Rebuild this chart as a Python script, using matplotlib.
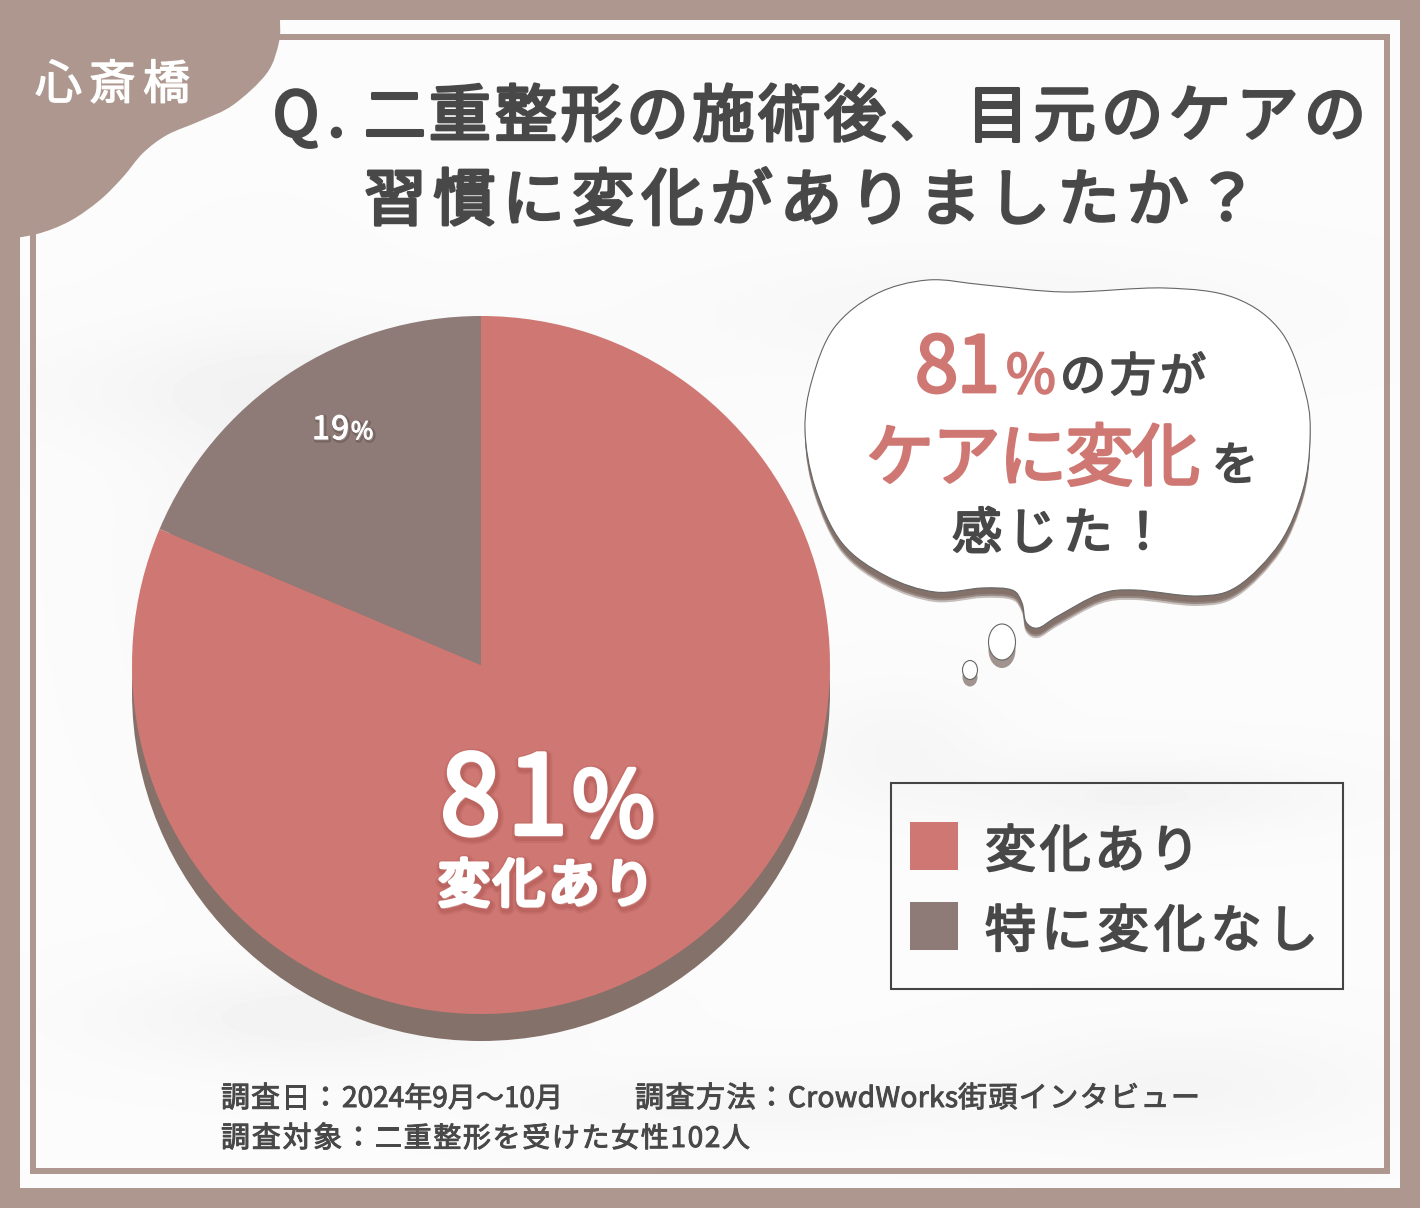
import numpy as np
import matplotlib
matplotlib.use('Agg')
import matplotlib.pyplot as plt
import matplotlib.patheffects as pe
from matplotlib.patches import Circle, Ellipse, PathPatch, Rectangle
from matplotlib.path import Path
from matplotlib.transforms import Affine2D
from matplotlib.font_manager import FontProperties
from matplotlib.textpath import text_to_path

plt.rcParams['font.family'] = ['Noto Sans CJK JP', 'DejaVu Sans']

# データ (回答者102人)
labels = ['変化あり', '特に変化なし']
counts = [83, 19]
colors = ['#cf7873', '#8e7b78']
percents = [round(c / sum(counts) * 100) for c in counts]

area = '心斎橋'
title_q = 'Q.'
title_a = '二重整形の施術後、'
title_b = '目元のケアの'
title_c = '習慣に変化がありましたか？'
note_date = ['調査日：', '2024年9月～10月']
note_method = ['調査方法：', 'CrowdWorks', '街頭インタビュー']
note_target = ['調査対象：', '二重整形を受けた女性102人']

W, H = 1420, 1208
BAND = '#ad978e'
DARK = '#484848'
SHADOW = '#83716a'

fig = plt.figure(figsize=(W / 100, H / 100), dpi=100)


def pixel_axes(z):
    a = fig.add_axes([0, 0, 1, 1], zorder=z)
    a.set_xlim(0, W)
    a.set_ylim(H, 0)
    a.axis('off')
    a.patch.set_alpha(0)
    return a


def smooth_path(pts):
    # 点を通る閉じた曲線 (Catmull-Rom をベジェに変換)
    pts = np.array(pts, dtype=float)
    n = len(pts)
    verts = [pts[0]]
    codes = [Path.MOVETO]
    for i in range(n):
        p0, p1, p2, p3 = pts[i - 1], pts[i], pts[(i + 1) % n], pts[(i + 2) % n]
        verts += [p1 + (p2 - p0) / 6, p2 - (p3 - p1) / 6, p2]
        codes += [Path.CURVE4] * 3
    return Path(verts, codes)


def open_curve(pts):
    # 端点つきの開いた曲線の頂点とコード
    pts = np.array(pts, dtype=float)
    verts, codes = [], []
    for i in range(len(pts) - 1):
        p0 = pts[max(i - 1, 0)]
        p1, p2 = pts[i], pts[i + 1]
        p3 = pts[min(i + 2, len(pts) - 1)]
        verts += [p1 + (p2 - p0) / 6, p2 - (p3 - p1) / 6, p2]
        codes += [Path.CURVE4] * 3
    return verts, codes


def spaced(ax, s, x0, x1, base, size, color, stroke=1.0, effects=None):
    # 文字を x0 から x1 まで均等に並べる
    prop = FontProperties(family='Noto Sans CJK JP', size=size * 0.72)
    widths = []
    for ch in s:
        w, _, _ = text_to_path.get_text_width_height_descent(ch, prop, False)
        widths.append(w * 100 / 72)
    gap = (x1 - x0 - sum(widths)) / max(len(s) - 1, 1)
    fx = effects if effects is not None else [pe.withStroke(linewidth=stroke, foreground=color)]
    x = x0
    for ch, w in zip(s, widths):
        ax.text(x, base, ch, fontproperties=prop, color=color, ha='left', va='baseline',
                path_effects=fx)
        x += w + gap


bg = pixel_axes(0)
bg.add_patch(Rectangle((0, 0), W, H, fc=BAND, ec='none'))

# 背景のうっすらした模様
yy, xx = np.mgrid[0:H // 4, 0:W // 4] * 4.0
tex = np.full(xx.shape, 0.985)
for cx, cy, sx, sy, d in [(300, 380, 260, 60, 0.03), (250, 560, 120, 200, 0.025), (1000, 300, 300, 60, 0.02),
                          (1150, 800, 200, 40, 0.03), (300, 1030, 200, 50, 0.035), (1200, 1100, 200, 60, 0.025),
                          (750, 1120, 250, 40, 0.02), (900, 750, 100, 60, 0.02)]:
    tex -= d * np.exp(-((xx - cx) / sx) ** 2 - ((yy - cy) / sy) ** 2)
bg.imshow(tex, cmap='gray', vmin=0, vmax=1, extent=(20, 1400, 1188, 20), aspect='auto',
          interpolation='bilinear', zorder=1)
bg.set_xlim(0, W)
bg.set_ylim(H, 0)

# 内側の枠線
bg.add_patch(Rectangle((33, 37), 1354, 1134, fc='none', ec=BAND, lw=4.3, zorder=2))

# 左上の飾り
edge = [(280, 20), (279, 42), (267, 73), (233, 105), (200, 121), (167, 135), (143, 153), (123, 177), (100, 200),
        (70, 221), (37, 234), (0, 240)]
ev, ec = open_curve(edge)
corner = Path([(0, 0), (280, 0), edge[0]] + ev + [(0, 0)],
              [Path.MOVETO, Path.LINETO, Path.LINETO] + ec + [Path.CLOSEPOLY])
bg.add_patch(PathPatch(corner, fc=BAND, ec='none', zorder=3))

# 円グラフの影
cx, cy, r = 481, 665, 349
bg.add_patch(Circle((cx, cy + 27), r, fc=SHADOW, ec='none', zorder=4))

# 円グラフ
pie_ax = fig.add_axes([(cx - r) / W, 1 - (cy + r) / H, 2 * r / W, 2 * r / H], zorder=1)
pie_ax.pie(counts, colors=colors, startangle=90, counterclock=False, radius=1)
pie_ax.set_xlim(-1, 1)
pie_ax.set_ylim(-1, 1)
pie_ax.patch.set_alpha(0)

ax = pixel_axes(2)

# 吹き出し
bubble = [(805, 430), (812, 380), (834, 328), (876, 294), (928, 280), (985, 285), (1065, 292), (1165, 288),
          (1235, 298), (1282, 333), (1306, 395), (1310, 440), (1303, 490), (1280, 543), (1238, 586), (1198, 596),
          (1135, 590), (1100, 594), (1058, 616), (1038, 628), (1026, 622), (1022, 603), (1012, 590), (982, 588),
          (935, 592), (886, 576), (842, 543), (815, 487)]
shape = smooth_path(bubble)
for dy, a in [(10, 0.45), (8, 0.7), (6, 1.0)]:
    ax.add_patch(PathPatch(shape.transformed(Affine2D().translate(0, dy)), fc=SHADOW, ec='none', alpha=a))
ax.add_patch(PathPatch(shape, fc='white', ec='#666666', lw=0.8))
for (ex, ey, ew, eh, dy) in [(1002, 642, 27, 36, 8), (970, 670, 15, 19, 7)]:
    ax.add_patch(Ellipse((ex, ey + dy), ew, eh, fc=SHADOW, ec='none', alpha=0.75))
    ax.add_patch(Ellipse((ex, ey), ew, eh, fc='white', ec='#666666', lw=0.8))

# タイトル
spaced(ax, area, 35, 190, 99, 47, 'white', 1.0)
spaced(ax, title_q, 273, 345, 136, 62, DARK, 2.2)
spaced(ax, title_a, 363, 952, 136, 62, DARK, 2.2)
spaced(ax, title_b, 966, 1366, 136, 62, DARK, 2.2)
spaced(ax, title_c, 364, 1258, 220, 62, DARK, 2.2)

# 吹き出しの文字
PINK = colors[0]
spaced(ax, str(percents[0]), 915, 1000, 392, 78, PINK, 2.0)
spaced(ax, '%', 1006, 1052, 393, 54, PINK, 1.5)
spaced(ax, 'の方が', 1060, 1206, 391, 46, DARK, 1.5)
spaced(ax, 'ケアに変化', 866, 1200, 480, 68, PINK, 2.0)
spaced(ax, 'を', 1212, 1256, 480, 46, DARK, 1.5)
spaced(ax, '感じた！', 952, 1168, 549, 50, DARK, 1.5)

# 円グラフの中の文字
glow = [pe.Stroke(offset=(1, -2), linewidth=9, foreground='#a9524e', alpha=0.22),
        pe.Stroke(offset=(1, -2), linewidth=6, foreground='#a9524e', alpha=0.35),
        pe.Stroke(linewidth=3, foreground='white'), pe.Normal()]
spaced(ax, str(percents[0]), 440, 568, 834, 110, 'white', effects=glow)
spaced(ax, '%', 572, 652, 836, 90, 'white', effects=glow)
spaced(ax, labels[0], 438, 655, 902, 52, 'white', effects=glow)
small_glow = [pe.Stroke(offset=(1, -1), linewidth=3, foreground='#5f4f4b', alpha=0.5),
              pe.Stroke(linewidth=0.8, foreground='white'), pe.Normal()]
spaced(ax, str(percents[1]), 312, 349, 439, 32, 'white', effects=small_glow)
spaced(ax, '%', 351, 372, 439, 24, 'white', effects=small_glow)

# 凡例
ax.add_patch(Rectangle((890.5, 783), 452, 206, fc='none', ec='#444444', lw=1.5))
legend_ends = [1200, 1318]
legend_tops = [822, 902]
legend_bases = [867, 947]
for lab, col, top, base, end in zip(labels, colors, legend_tops, legend_bases, legend_ends):
    ax.add_patch(Rectangle((910, top), 48, 48, fc=col, ec='none'))
    spaced(ax, lab, 985, end, base, 51, DARK, 1.5)

# 調査概要
spaced(ax, note_date[0], 221, 340, 1107, 29, DARK, 0.7)
spaced(ax, note_date[1], 342, 563, 1107, 28, DARK, 0.7)
spaced(ax, note_method[0], 635, 786, 1107, 29, DARK, 0.7)
spaced(ax, note_method[1], 788, 958, 1107, 28, DARK, 0.7)
spaced(ax, note_method[2], 958, 1200, 1107, 29, DARK, 0.7)
spaced(ax, note_target[0], 221, 373, 1147, 29, DARK, 0.7)
spaced(ax, note_target[1], 374, 750, 1147, 28, DARK, 0.7)

fig.savefig('out.png', dpi=100)
